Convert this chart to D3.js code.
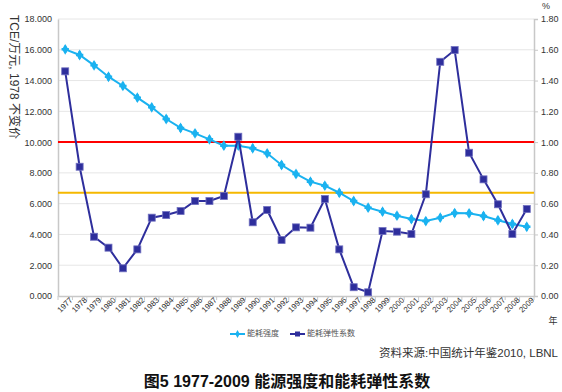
<!DOCTYPE html>
<html><head><meta charset="utf-8">
<script src="https://cdn.jsdelivr.net/npm/d3@7"></script>
<style>body{margin:0;background:#fff}svg{display:block;font-family:Arial,"Liberation Sans","Noto Sans CJK SC",sans-serif}</style>
</head><body>
<script>
const years = d3.range(1977, 2010).map(String);
const intensity = [16.03,15.66,14.99,14.25,13.65,12.89,12.26,11.50,10.92,10.57,10.18,9.77,9.77,9.60,9.27,8.51,7.93,7.43,7.17,6.71,6.17,5.74,5.48,5.22,5.00,4.87,5.09,5.39,5.37,5.20,4.92,4.68,4.50];
const elasticity = [1.46,0.84,0.385,0.314,0.18,0.303,0.509,0.526,0.552,0.617,0.617,0.65,1.035,0.479,0.559,0.364,0.446,0.444,0.63,0.303,0.057,0.024,0.422,0.418,0.403,0.661,1.522,1.598,0.931,0.758,0.596,0.403,0.565];
const leftTicks = [0,2,4,6,8,10,12,14,16,18];
const rightTicks = [0,0.2,0.4,0.6,0.8,1.0,1.2,1.4,1.6,1.8];
const refLines = [{value:1.0,color:"#ff0000"},{value:0.671,color:"#f5b800"}];
const seriesNames = ["能耗强度","能耗弹性系数"];

const W=562,H=392;
const svg=d3.select("body").append("svg").attr("width",W).attr("height",H);
const L=58,R=534,T=19,B=296;
const x=d3.scaleBand().domain(years).range([L,R]);
const yL=d3.scaleLinear().domain([0,18]).range([B,T]);
const yR=d3.scaleLinear().domain([0,1.8]).range([B,T]);

// gridlines
svg.append("g").selectAll("line").data(leftTicks.slice(1)).join("line")
 .attr("x1",L).attr("x2",R).attr("y1",d=>yL(d)).attr("y2",d=>yL(d))
 .attr("stroke","#e6e6e6").attr("stroke-width",1);

// left axis
const gl=svg.append("g").attr("transform",`translate(${L},0)`)
 .call(d3.axisLeft(yL).tickValues(leftTicks).tickFormat(d3.format(".3f")).tickSize(0).tickPadding(6));
gl.select(".domain").attr("stroke","#c8c8c8").attr("stroke-width",1.5);
gl.selectAll("text").attr("font-size",9).attr("fill","#333");

// right axis
const gr=svg.append("g").attr("transform",`translate(${R},0)`)
 .call(d3.axisRight(yR).tickValues(rightTicks).tickFormat(d3.format(".2f")).tickSize(4).tickPadding(3));
gr.select(".domain").attr("stroke","#c8c8c8").attr("stroke-width",1.5);
gr.selectAll(".tick line").attr("stroke","#c8c8c8");
gr.selectAll("text").attr("font-size",9).attr("fill","#333");

// bottom axis
const gb=svg.append("g").attr("transform",`translate(0,${B})`)
 .call(d3.axisBottom(x).tickSize(0).tickPadding(4));
gb.select(".domain").attr("stroke","#c8c8c8").attr("stroke-width",1.5);
gb.selectAll("text").attr("font-size",8).attr("fill","#333")
 .attr("text-anchor","end").attr("dx","0.3em").attr("dy","0.6em")
 .attr("transform","rotate(-45)");
// category separators
svg.append("g").selectAll("line").data(years.concat(["end"])).join("line")
 .attr("x1",(d,i)=>L+i*x.bandwidth()).attr("x2",(d,i)=>L+i*x.bandwidth())
 .attr("y1",B).attr("y2",B+4).attr("stroke","#c8c8c8");

// reference lines
svg.append("g").selectAll("line").data(refLines).join("line")
 .attr("x1",L).attr("x2",R).attr("y1",d=>yR(d.value)).attr("y2",d=>yR(d.value))
 .attr("stroke",d=>d.color).attr("stroke-width",2);

const cx=d=>x(d)+x.bandwidth()/2;
// intensity
const c1="#1ab2f0", c2="#2e2e9c";
svg.append("path").datum(intensity)
 .attr("d",d3.line().x((d,i)=>cx(years[i])).y(d=>yL(d)))
 .attr("fill","none").attr("stroke",c1).attr("stroke-width",2);
const star=d3.symbol().type(d3.symbolDiamond).size(34);
svg.append("g").selectAll("path").data(intensity).join("path")
 .attr("d",star).attr("transform",(d,i)=>`translate(${cx(years[i])},${yL(d)})`)
 .attr("fill",c1);
svg.append("g").selectAll("path").data(intensity).join("path")
 .attr("d",d3.symbol().type(d3.symbolCross).size(30)).attr("transform",(d,i)=>`translate(${cx(years[i])},${yL(d)})`)
 .attr("fill",c1);

// elasticity
svg.append("path").datum(elasticity)
 .attr("d",d3.line().x((d,i)=>cx(years[i])).y(d=>yR(d)))
 .attr("fill","none").attr("stroke",c2).attr("stroke-width",2);
svg.append("g").selectAll("rect").data(elasticity).join("rect")
 .attr("x",(d,i)=>cx(years[i])-3.5).attr("y",d=>yR(d)-3.5).attr("width",7).attr("height",7)
 .attr("fill",c2).attr("stroke","#7070c0").attr("stroke-width",0.8);

// axis titles
svg.append("text").attr("transform","translate(13,77) rotate(90)")
 .attr("text-anchor","middle").attr("dominant-baseline","middle")
 .attr("font-size",12).attr("fill","#333").text("TCE/万元, 1978 不变价");
svg.append("text").attr("x",546).attr("y",9).attr("text-anchor","middle").attr("font-size",9).attr("fill","#333").text("%");
svg.append("text").attr("x",553).attr("y",324).attr("text-anchor","middle").attr("font-size",9).attr("fill","#333").text("年");

// legend
const lg=svg.append("g");
const legItems=[{name:seriesNames[0],color:c1,x:230,sym:"d"},{name:seriesNames[1],color:c2,x:290,sym:"s"}];
legItems.forEach(it=>{
 lg.append("line").attr("x1",it.x).attr("x2",it.x+15).attr("y1",334).attr("y2",334).attr("stroke",it.color).attr("stroke-width",2);
 if(it.sym==="d") lg.append("path").attr("d",d3.symbol().type(d3.symbolDiamond).size(18)).attr("transform",`translate(${it.x+7.5},334)`).attr("fill",it.color);
 else lg.append("rect").attr("x",it.x+5).attr("y",331.5).attr("width",5).attr("height",5).attr("fill",it.color);
 lg.append("text").attr("x",it.x+17).attr("y",334).attr("dominant-baseline","middle").attr("font-size",8).attr("fill","#555").text(it.name);
});

svg.append("text").attr("x",558).attr("y",357).attr("text-anchor","end").attr("font-size",11.5).attr("fill","#333").text("资料来源:中国统计年鉴2010, LBNL");
svg.append("text").attr("x",287).attr("y",387).attr("text-anchor","middle").attr("font-size",16).attr("font-weight","bold").attr("fill","#111").text("图5 1977-2009 能源强度和能耗弹性系数");
</script>
</body></html>
